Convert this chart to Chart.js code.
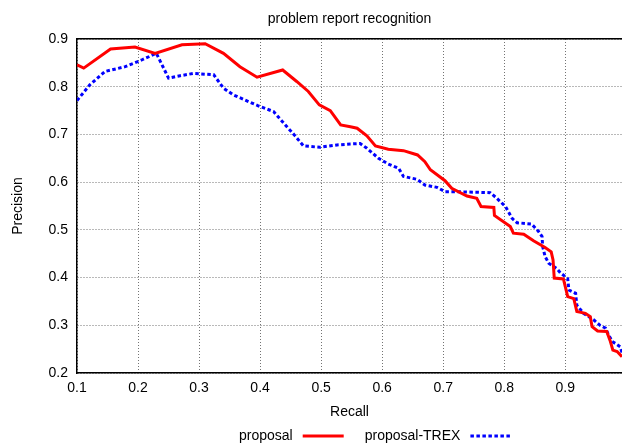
<!DOCTYPE html>
<html>
<head>
<meta charset="utf-8">
<script src="https://cdn.jsdelivr.net/npm/chart.js@4/dist/chart.umd.min.js"></script>
<style>
  html, body { margin: 0; padding: 0; background: #fff; }
  #wrap { width: 622px; height: 444px; }
</style>
</head>
<body>
<div id="wrap"><canvas id="chart" width="622" height="444"></canvas></div>
<script>
'use strict';

// values
const proposalRecall = [
  0.100, 0.111, 0.155, 0.195, 0.228, 0.272, 0.310, 0.340, 0.367, 0.395,
  0.437, 0.460, 0.479, 0.497, 0.515, 0.532, 0.548, 0.559, 0.575, 0.589,
  0.610, 0.635, 0.658, 0.670, 0.679, 0.703, 0.714, 0.739, 0.755, 0.762,
  0.783, 0.784, 0.810, 0.815, 0.832, 0.848, 0.867, 0.877, 0.880, 0.882,
  0.897, 0.904, 0.914, 0.919, 0.933, 0.941, 0.944, 0.953, 0.968, 0.974,
  0.978, 0.985, 0.993
];
const proposalPrecision = [
  0.846, 0.839, 0.879, 0.883, 0.870, 0.888, 0.890, 0.870, 0.842, 0.820,
  0.835, 0.811, 0.790, 0.762, 0.750, 0.720, 0.716, 0.713, 0.697, 0.676,
  0.669, 0.666, 0.657, 0.643, 0.626, 0.603, 0.587, 0.571, 0.566, 0.549,
  0.547, 0.530, 0.507, 0.493, 0.491, 0.477, 0.463, 0.454, 0.437, 0.399,
  0.397, 0.360, 0.356, 0.329, 0.325, 0.318, 0.297, 0.288, 0.287, 0.266,
  0.248, 0.245, 0.234
];
const trexRecall = [
  0.100, 0.121, 0.146, 0.179, 0.206, 0.230, 0.250, 0.269, 0.291, 0.324,
  0.340, 0.356, 0.397, 0.422, 0.444, 0.456, 0.471, 0.498, 0.526, 0.548,
  0.564, 0.575, 0.594, 0.610, 0.627, 0.635, 0.657, 0.670, 0.690, 0.703,
  0.722, 0.777, 0.788, 0.802, 0.813, 0.821, 0.845, 0.856, 0.862, 0.863,
  0.867, 0.873, 0.886, 0.892, 0.904, 0.906, 0.917, 0.919, 0.930, 0.947,
  0.957, 0.966, 0.971, 0.977, 0.982, 0.990, 0.993
];
const trexPrecision = [
  0.771, 0.804, 0.832, 0.842, 0.856, 0.870, 0.818, 0.823, 0.828, 0.825,
  0.797, 0.783, 0.760, 0.748, 0.716, 0.699, 0.676, 0.673, 0.678, 0.680,
  0.681, 0.671, 0.650, 0.638, 0.629, 0.612, 0.606, 0.594, 0.589, 0.580,
  0.580, 0.578, 0.566, 0.549, 0.524, 0.515, 0.512, 0.497, 0.486, 0.465,
  0.444, 0.430, 0.419, 0.410, 0.398, 0.374, 0.367, 0.342, 0.325, 0.311,
  0.300, 0.294, 0.280, 0.266, 0.262, 0.255, 0.243
];
const seriesLabels = ['proposal', 'proposal-TREX'];

const FONT = '"Liberation Sans", Arial, Helvetica, sans-serif';
const X_MIN = 0.1, X_MAX = 0.993;
const LEGEND_LEFT = 239;
const LEGEND_Y = 436;

const toPoints = (xs, ys) => xs.map((x, i) => ({x: x, y: ys[i]}));

// gnuplot style key: text first, line sample after it
const keyPlugin = {
  id: 'key',
  afterDraw(chart) {
    const ctx = chart.ctx;
    let x = LEGEND_LEFT;
    ctx.save();
    ctx.font = '14px ' + FONT;
    ctx.textBaseline = 'middle';
    ctx.textAlign = 'left';
    for (const ds of chart.data.datasets) {
      ctx.fillStyle = '#000';
      ctx.fillText(ds.label, x, LEGEND_Y);
      x += ctx.measureText(ds.label).width + 10;
      ctx.strokeStyle = ds.borderColor;
      ctx.lineWidth = ds.borderWidth;
      ctx.setLineDash(ds.borderDash || []);
      ctx.beginPath();
      ctx.moveTo(x, LEGEND_Y);
      ctx.lineTo(x + 41, LEGEND_Y);
      ctx.stroke();
      ctx.setLineDash([]);
      x += 41 + 21;
    }
    ctx.restore();
  }
};

const gridStyle = {
  color: 'rgba(0,0,0,0.55)',
  lineWidth: 1,
  drawTicks: false
};

const config = {
  type: 'line',
  data: {
    datasets: [{
      label: seriesLabels[0],
      data: toPoints(proposalRecall, proposalPrecision),
      borderColor: '#ff0000',
      borderWidth: 3,
      pointRadius: 0,
      tension: 0,
      fill: false
    }, {
      label: seriesLabels[1],
      data: toPoints(trexRecall, trexPrecision),
      borderColor: '#0000ff',
      borderWidth: 3,
      borderDash: [3.5, 2.5],
      pointRadius: 0,
      tension: 0,
      fill: false
    }]
  },
  options: {
    responsive: false,
    animation: false,
    parsing: false,
    layout: { padding: 0 },
    plugins: {
      legend: { display: false },
      tooltip: { enabled: false },
      title: { display: false }
    },
    scales: {
      x: {
        type: 'linear',
        position: 'bottom',
        min: X_MIN,
        max: X_MAX,
        afterFit: s => { s.height = 71; },
        ticks: {
          stepSize: 0.1,
          includeBounds: false,
          padding: 7,
          color: '#000',
          font: { family: FONT, size: 14 },
          callback: v => v.toFixed(1)
        },
        grid: gridStyle,
        border: { color: '#000', width: 1.5, dash: [1, 2] },
        title: {
          display: true,
          text: 'Recall',
          color: '#000',
          font: { family: FONT, size: 14 },
          padding: { top: 4, bottom: 23.6 }
        }
      },
      top: {
        type: 'linear',
        position: 'top',
        min: X_MIN,
        max: X_MAX,
        afterFit: s => { s.height = 39; },
        ticks: { display: false },
        grid: { display: false, drawTicks: false },
        border: { color: '#000', width: 1.5 },
        title: {
          display: true,
          text: 'problem report recognition',
          color: '#000',
          font: { family: FONT, size: 14 },
          padding: { top: 11, bottom: 11 }
        }
      },
      y: {
        type: 'linear',
        position: 'left',
        min: 0.2,
        max: 0.9,
        afterFit: s => { s.width = 77; },
        ticks: {
          stepSize: 0.1,
          padding: 9,
          color: '#000',
          font: { family: FONT, size: 14 },
          callback: v => v.toFixed(1)
        },
        grid: gridStyle,
        border: { color: '#000', width: 1.5, dash: [1, 2] },
        title: {
          display: true,
          text: 'Precision',
          color: '#000',
          font: { family: FONT, size: 14 },
          padding: { top: 10, bottom: 0 }
        }
      }
    }
  },
  plugins: [keyPlugin]
};

const chart = new Chart(document.getElementById('chart').getContext('2d'), config);
</script>
</body>
</html>
